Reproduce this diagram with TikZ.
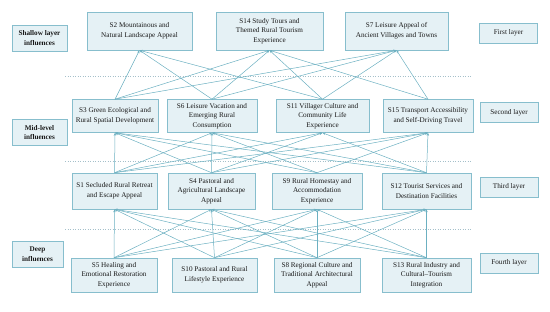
\documentclass[tikz,border=0pt]{standalone}
\usepackage{fontspec}
\setmainfont{Liberation Serif}
\usepackage{xcolor}
\usetikzlibrary{arrows.meta}

\definecolor{boxfill}{RGB}{229,241,245}
\definecolor{boxline}{RGB}{135,190,205}
\definecolor{linkcol}{RGB}{108,176,193}
\definecolor{sepcol}{RGB}{165,192,202}

\begin{document}
\begin{tikzpicture}[x=1pt, y=-1pt,
    box/.style={draw=boxline, fill=boxfill, line width=0.6pt, align=center, inner sep=2pt, text=black!90, font=\fontsize{7.2}{9.6}\selectfont},
    factor/.style={box, minimum height=33pt},
    tag/.style={box, minimum width=58pt, minimum height=20pt},
    level/.style={box, minimum width=55pt, minimum height=26pt, font=\fontsize{7.2}{9.6}\selectfont\bfseries},
    arr/.style={-{Stealth[length=3pt, width=2.4pt]}, draw=linkcol, line width=0.5pt},
    sep/.style={draw=sepcol, dotted, line width=0.5pt},
]
\useasboundingbox (0,0) rectangle (550,312);

% Layer separators
\draw[sep] (65,76) -- (472,76);
\draw[sep] (65,161) -- (472,161);
\draw[sep] (65,229) -- (472,229);

% First layer
\node[factor, minimum width=105pt, minimum height=38pt] (s2) at (139.5,31) {S2 Mountainous and\\Natural Landscape Appeal};
\node[factor, minimum width=107pt, minimum height=38pt] (s14) at (269.5,31) {S14 Study Tours and\\Themed Rural Tourism\\Experience};
\node[factor, minimum width=103pt, minimum height=38pt] (s7) at (396.5,31) {S7 Leisure Appeal of\\Ancient Villages and Towns};

% Second layer
\node[factor, minimum width=86pt] (s3) at (115,116) {S3 Green Ecological and\\Rural Spatial Development};
\node[factor, minimum width=90pt] (s6) at (212,116) {S6 Leisure Vacation and\\Emerging Rural\\Consumption};
\node[factor, minimum width=93pt] (s11) at (322.5,116) {S11 Villager Culture and\\Community Life\\Experience};
\node[factor, minimum width=90pt] (s15) at (428,116) {S15 Transport Accessibility\\and Self-Driving Travel};

% Third layer
\node[factor, minimum width=85pt, minimum height=36pt] (s1) at (114.5,191) {S1 Secluded Rural Retreat\\and Escape Appeal};
\node[factor, minimum width=87pt, minimum height=36pt] (s4) at (211.5,191) {S4 Pastoral and\\Agricultural Landscape\\Appeal};
\node[factor, minimum width=90pt, minimum height=36pt] (s9) at (317,191) {S9 Rural Homestay and\\Accommodation\\Experience};
\node[factor, minimum width=89pt, minimum height=36pt] (s12) at (426.5,191) {S12 Tourist Services and\\Destination Facilities};

% Fourth layer
\node[factor, minimum width=86pt, minimum height=34pt] (s5) at (114,275) {S5 Healing and\\Emotional Restoration\\Experience};
\node[factor, minimum width=85pt, minimum height=34pt] (s10) at (214.5,275) {S10 Pastoral and Rural\\Lifestyle Experience};
\node[factor, minimum width=86pt, minimum height=34pt] (s8) at (317,275) {S8 Regional Culture and\\Traditional Architectural\\Appeal};
\node[factor, minimum width=89pt, minimum height=34pt] (s13) at (426.5,275) {S13 Rural Industry and\\Cultural--Tourism\\Integration};

% Influence labels
\node[level] (shallow) at (39.5,38) {Shallow layer\\influences};
\node[level] (midlevel) at (39.5,132.5) {Mid-level\\influences};
\node[level, minimum width=51pt] (deep) at (37.5,254) {Deep\\influences};

% Layer labels
\node[tag] (first) at (508.5,33) {First layer};
\node[tag] (second) at (509,112.5) {Second layer};
\node[tag] (third) at (509,187) {Third layer};
\node[tag] (fourth) at (509,263) {Fourth layer};

% Second layer -> first layer
\foreach \s/\t in {s3/s2, s3/s14, s3/s7, s6/s2, s6/s14, s6/s7, s11/s2, s11/s14, s11/s7, s15/s14, s15/s7}
    \draw[arr] (\s.north) -- (\t.south);

% Third layer -> second layer
\foreach \s/\t in {s1/s3, s1/s6, s1/s11, s1/s15, s4/s3, s4/s6, s4/s11, s4/s15, s9/s3, s9/s6, s9/s15, s12/s3, s12/s6, s12/s11, s12/s15}
    \draw[arr] (\s.north) -- (\t.south);

% Fourth layer -> third layer
\foreach \s in {s5, s10, s8, s13}
    \foreach \t in {s1, s4, s9, s12}
        \draw[arr] (\s.north) -- (\t.south);

\end{tikzpicture}
\end{document}
